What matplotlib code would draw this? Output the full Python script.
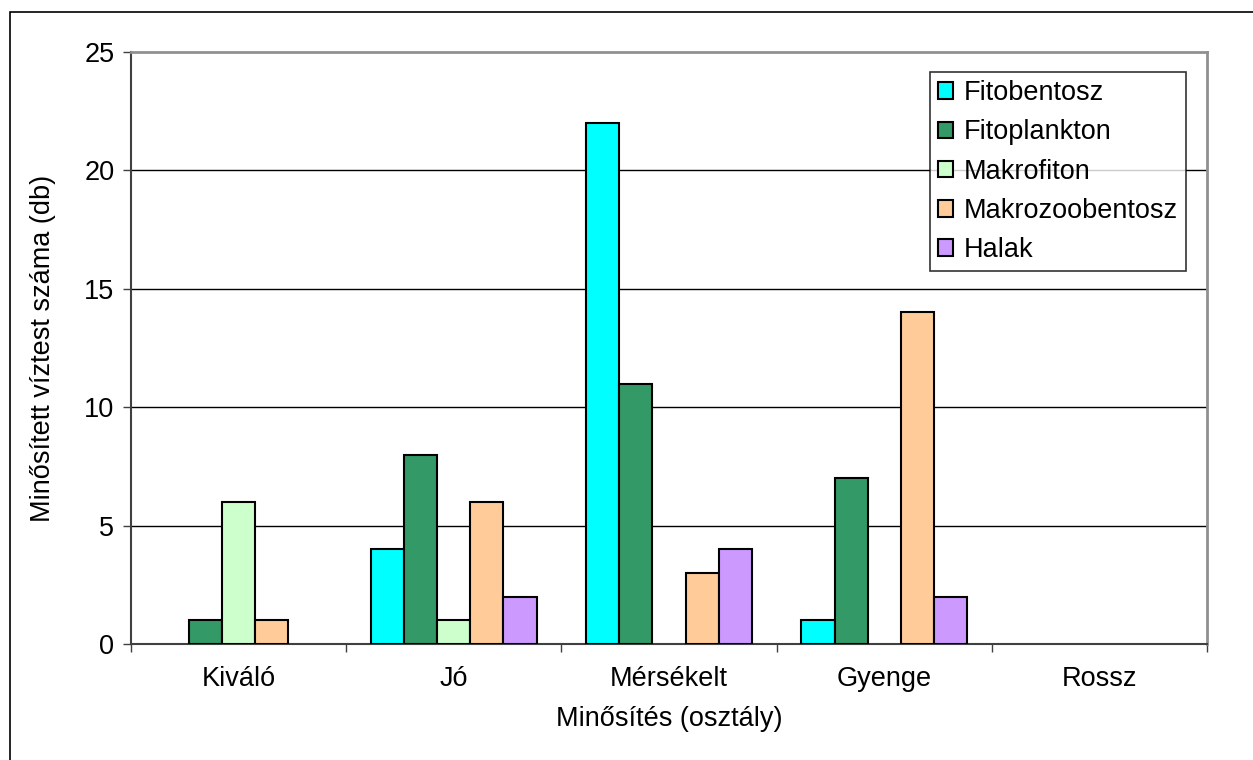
import matplotlib
matplotlib.use('Agg')
import numpy as np
from matplotlib import pyplot as plt
from matplotlib.patches import Rectangle

categories = ['Kiváló', 'Jó', 'Mérsékelt', 'Gyenge', 'Rossz']
series_names = ['Fitobentosz', 'Fitoplankton', 'Makrofiton', 'Makrozoobentosz', 'Halak']
fitobentosz = [0, 4, 22, 1, 0]
fitoplankton = [1, 8, 11, 7, 0]
makrofiton = [6, 1, 0, 0, 0]
makrozoobentosz = [1, 6, 3, 14, 0]
halak = [0, 2, 4, 2, 0]
colors = ['#00FFFF', '#339966', '#CCFFCC', '#FFCC99', '#CC99FF']

plt.rcParams['font.family'] = ['Liberation Sans', 'DejaVu Sans']
fs = 19.5

fig = plt.figure(figsize=(12.53, 7.6), dpi=100)
ax = fig.add_axes([131/1253, 1 - 644/760, (1207-131)/1253, (644-52)/760])

# outer chart border (only left and top visible)
fig.patches.append(Rectangle((9.5/1253, -0.5), 2.0, 1.5 - 12/760, transform=fig.transFigure,
                             fill=False, edgecolor='black', linewidth=1.2))

allSeries = [fitobentosz, fitoplankton, makrofiton, makrozoobentosz, halak]
x = np.arange(len(categories))
w = 1 / 6.5
for i, (name, vals) in enumerate(zip(series_names, allSeries)):
    offs = (i - 2) * w
    # zero bars are not drawn with an outline (like the original)
    lw = [1.5 if v else 0 for v in vals]
    ax.bar(x + offs, vals, width=w, color=colors[i], edgecolor='black', linewidth=lw,
           label=name, zorder=3)

ax.set_xlim(-0.5, len(categories) - 0.5)
ax.set_ylim(0, 25)
ax.set_yticks([0, 5, 10, 15, 20, 25])
ax.set_xticks(x)
ax.set_xticklabels(categories, fontsize=fs)
ax.set_xticks(np.arange(-0.5, len(categories), 1), minor=True)
ax.tick_params(axis='x', which='major', length=0, pad=16)
ax.tick_params(axis='x', which='minor', length=6, width=1, color='#404040')
ax.tick_params(axis='y', length=6, width=1, color='#404040', labelsize=fs, pad=6)
for yv in [5, 10, 15, 20]:
    ax.axhline(yv, color='black', linewidth=1, zorder=1)

for s in ['top', 'right']:
    ax.spines[s].set_color('#909090')
    ax.spines[s].set_linewidth(2)
for s in ['left', 'bottom']:
    ax.spines[s].set_color('#404040')
    ax.spines[s].set_linewidth(1.5)

ax.set_xlabel('Minősítés (osztály)', fontsize=fs, labelpad=10)
ax.set_ylabel('Minősített víztest száma (db)', fontsize=fs, labelpad=20)

leg = ax.legend(loc='upper right', bbox_to_anchor=(1186/1253, 1 - 72/760),
                bbox_transform=fig.transFigure, fontsize=fs, frameon=True, fancybox=False,
                handlelength=0.55, handleheight=0.55, handletextpad=0.4, labelspacing=0.49,
                borderpad=0.3, borderaxespad=0)
leg.get_frame().set_edgecolor('black')
leg.get_frame().set_linewidth(1.2)
for h in leg.legend_handles:
    h.set_linewidth(1.5)
    h.set_edgecolor('black')

fig.savefig('out.png', dpi=100)
